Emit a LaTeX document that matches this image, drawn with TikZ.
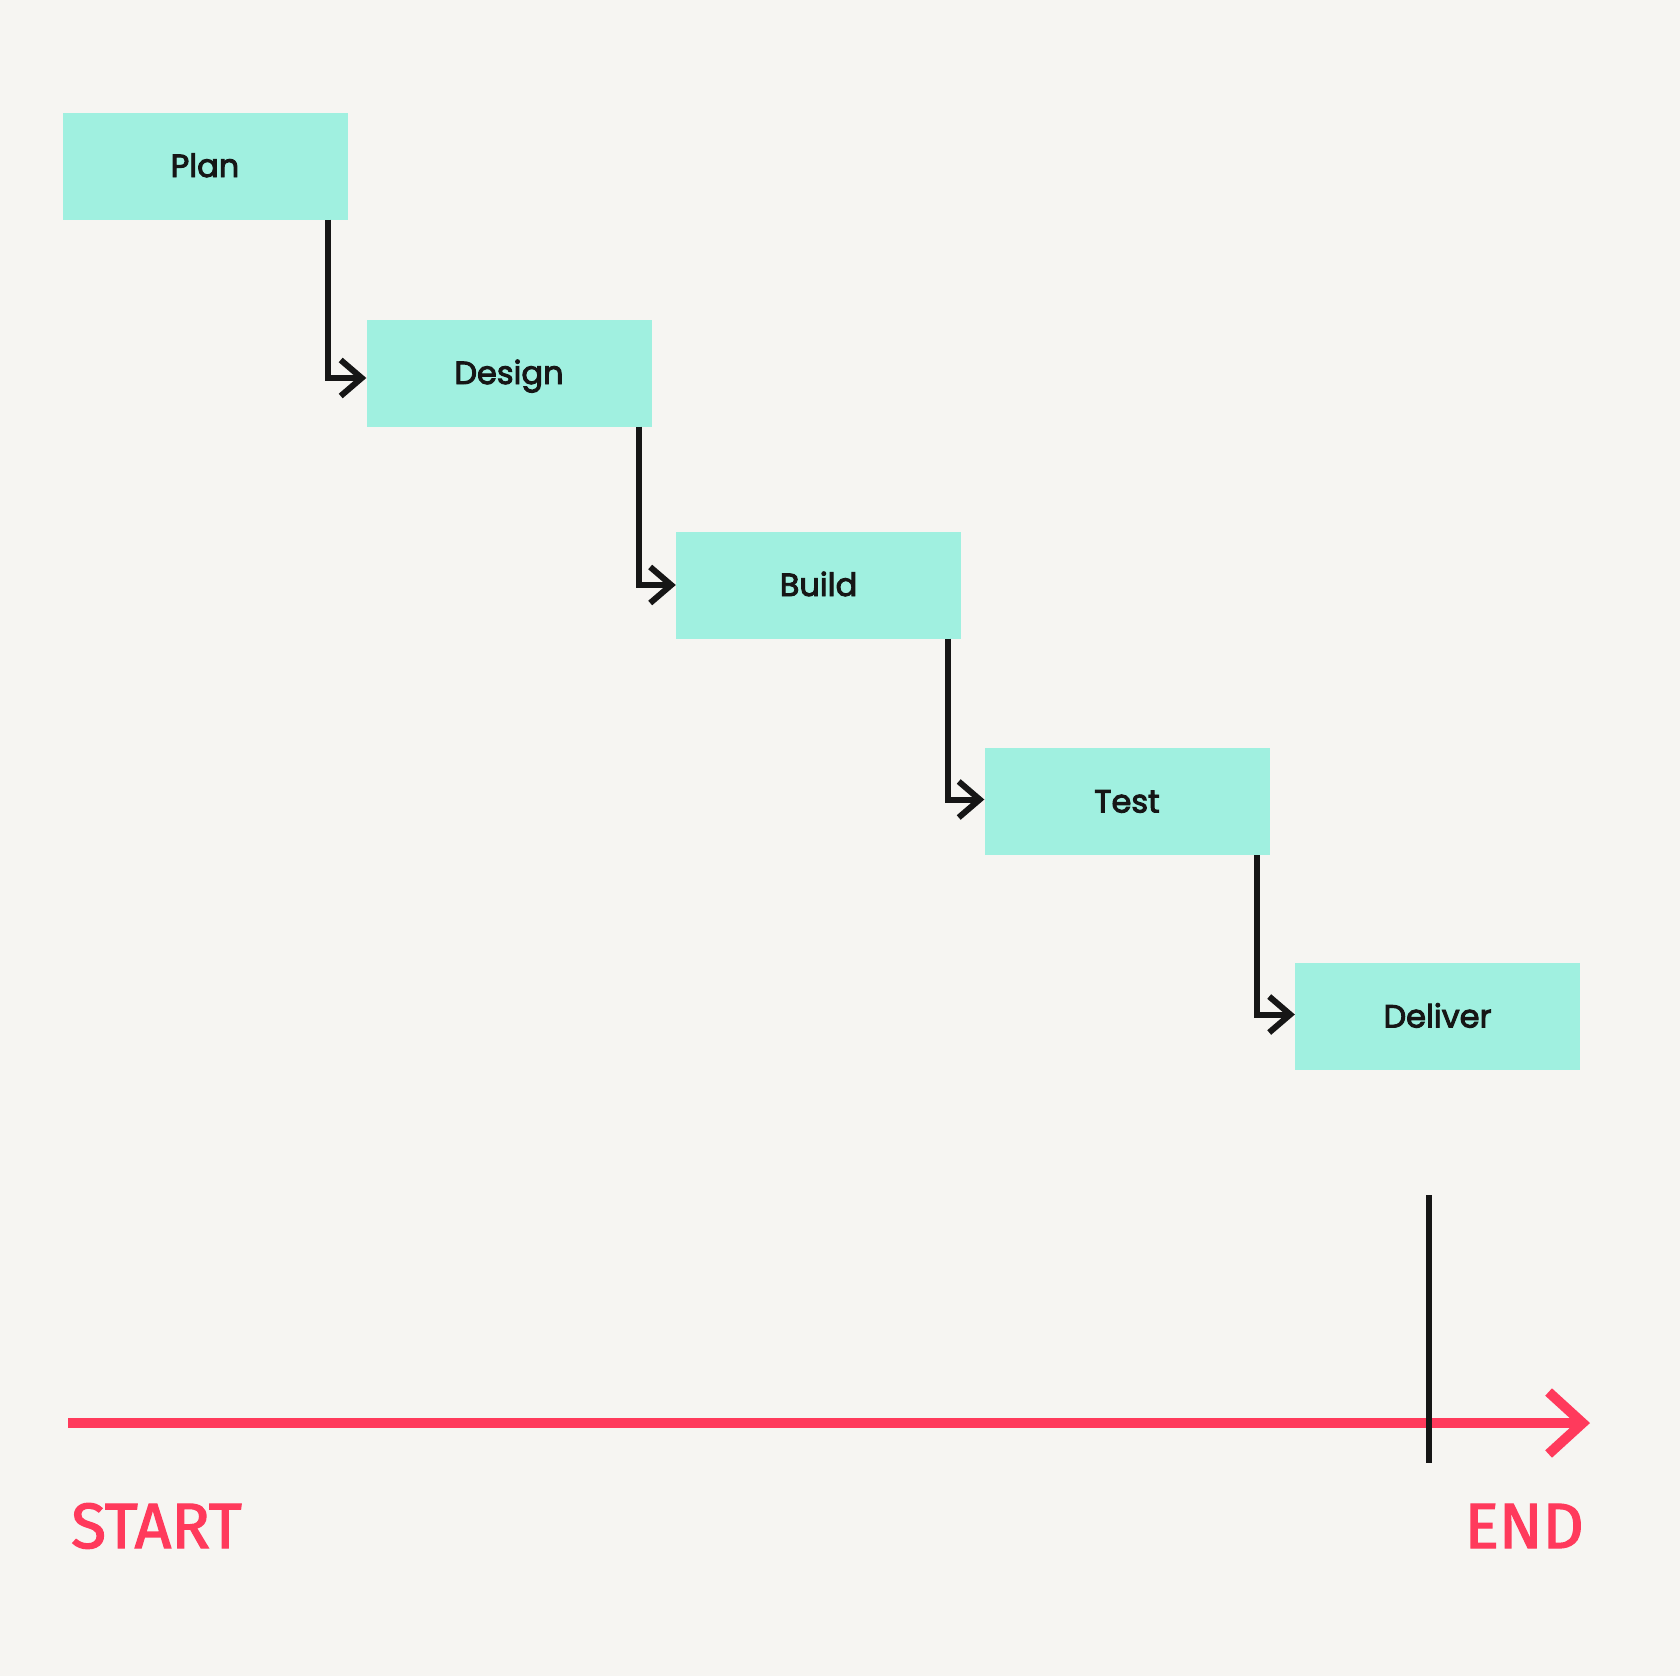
\documentclass[tikz,border=0pt]{standalone}
\usepackage{fontspec}
\setmainfont{Poppins}
\newfontfamily\boxfont{Poppins}[FakeBold=3]
\newfontfamily\lblfont{Fira Sans}[FakeBold=2]
\usetikzlibrary{arrows.meta}
\definecolor{bg}{HTML}{F6F5F2}
\definecolor{boxfill}{HTML}{A0F0E0}
\definecolor{ink}{HTML}{161616}
\definecolor{tlred}{HTML}{FF3A5C}
\tikzset{
  stagebox/.style={fill=boxfill, draw=none, minimum width=285pt, minimum height=107pt,
    inner sep=0pt, text height=22pt, text depth=0pt,
    font=\boxfont\fontsize{32}{36}\selectfont, text=ink},
  flowline/.style={draw=ink, line width=6pt, line join=miter,
    -{Straight Barb[length=21pt,width=36pt,line join=miter]}},
  timeline/.style={draw=tlred, line width=10pt,
    -{Straight Barb[length=34pt,width=62pt,line join=miter]}},
  marker/.style={draw=ink, line width=6pt},
  endlabel/.style={font=\lblfont\fontsize{64}{70}\selectfont, text=tlred, inner sep=0pt}
}
\begin{document}
\begin{tikzpicture}[x=1pt,y=-1pt]
\path[fill=bg] (0,0) rectangle (1680,1676);
\useasboundingbox (0,0) rectangle (1680,1676);

\node[stagebox] (plan) at (205,166) {Plan};
\node[stagebox] (design) at (509,373) {Design};
\node[stagebox] (build) at (818.5,585) {Build};
\node[stagebox] (test) at (1127,801.5) {Test};
\node[stagebox] (deliver) at (1437.5,1016.5) {Deliver};

\draw[flowline] ([xshift=-20pt]plan.south east) |- ([yshift=-5pt]design.west);
\draw[flowline] ([xshift=-13pt]design.south east) |- (build.west);
\draw[flowline] ([xshift=-13pt]build.south east) |- ([yshift=2pt]test.west);
\draw[flowline] ([xshift=-13pt]test.south east) |- ([yshift=2pt]deliver.west);

\coordinate (tstart) at (68,1423);
\coordinate (tend) at (1590,1423);
\draw[timeline] (tstart) -- (tend);

\coordinate (mtop) at (1429,1195);
\coordinate (mbot) at (1429,1463);
\draw[marker] (mtop) -- (mbot);

\node[endlabel, anchor=base west] (startlbl) at (71,1548) {START};
\node[endlabel, anchor=base east] (endlbl) at (1584,1548) {END};
\end{tikzpicture}
\end{document}
